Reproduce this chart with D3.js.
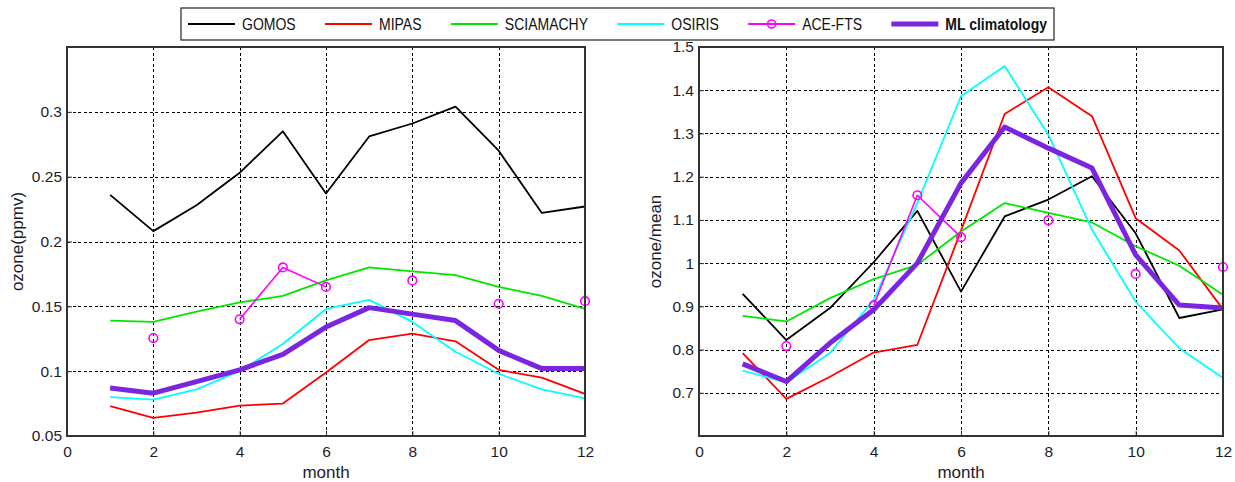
<!DOCTYPE html>
<html>
<head>
<meta charset="utf-8">
<script src="https://cdn.jsdelivr.net/npm/d3@7"></script>
<style>
  body { margin: 0; background: #fff; }
  svg  { display: block; font-family: "Liberation Sans", Arial, sans-serif; }
</style>
</head>
<body>
<svg id="fig" width="1235" height="482"></svg>
<script>
//------------------------------------------------------------------------
// Data, one array per series
const months = [1, 2, 3, 4, 5, 6, 7, 8, 9, 10, 11, 12];

// Left panel: absolute ozone (ppmv)
const gomosAbs  = [0.236, 0.208, 0.228, 0.253, 0.285, 0.237, 0.281, 0.291, 0.304, 0.270, 0.222, 0.227];
const mipasAbs  = [0.073, 0.064, 0.068, 0.0735, 0.075, 0.099, 0.124, 0.129, 0.123, 0.101, 0.095, 0.0825];
const sciaAbs   = [0.139, 0.138, 0.146, 0.153, 0.158, 0.170, 0.180, 0.177, 0.174, 0.165, 0.158, 0.148];
const osirisAbs = [0.080, 0.078, 0.086, 0.100, 0.121, 0.148, 0.155, 0.138, 0.115, 0.098, 0.086, 0.079];
const aceAbs    = [null, 0.1255, null, 0.140, 0.180, 0.165, null, 0.170, null, 0.152, null, 0.154];
const mlAbs     = [0.087, 0.083, 0.092, 0.101, 0.113, 0.134, 0.149, 0.144, 0.139, 0.116, 0.102, 0.102];

// Right panel: ozone normalised by mean
const gomosRel  = [0.929, 0.822, 0.896, 1.002, 1.121, 0.934, 1.108, 1.147, 1.201, 1.069, 0.873, 0.893];
const mipasRel  = [0.792, 0.686, 0.737, 0.793, 0.811, 1.075, 1.345, 1.407, 1.340, 1.104, 1.029, 0.893];
const sciaRel   = [0.878, 0.865, 0.919, 0.963, 0.996, 1.073, 1.139, 1.116, 1.094, 1.039, 0.994, 0.927];
const osirisRel = [0.751, 0.724, 0.792, 0.915, 1.139, 1.386, 1.456, 1.297, 1.077, 0.911, 0.803, 0.734];
const aceRel    = [null, 0.808, null, 0.902, 1.157, 1.060, null, 1.099, null, 0.975, null, 0.991];
const mlRel     = [0.767, 0.726, 0.815, 0.892, 1.000, 1.185, 1.315, 1.266, 1.220, 1.019, 0.903, 0.896];

// Tick values
const xTicks     = [0, 2, 4, 6, 8, 10, 12];
const yTicksLeft = [0.05, 0.1, 0.15, 0.2, 0.25, 0.3];
const yTicksRight= [0.7, 0.8, 0.9, 1.0, 1.1, 1.2, 1.3, 1.4, 1.5];

// Series styling / legend names
const seriesNames  = ['GOMOS', 'MIPAS', 'SCIAMACHY', 'OSIRIS', 'ACE-FTS', 'ML climatology'];
const seriesColors = ['#000000', '#ff0000', '#00e600', '#00ffff', '#ff00ff', '#7a26e0'];
const seriesWidths = [1.8, 1.8, 1.8, 1.8, 1.6, 5];

//------------------------------------------------------------------------
const svg = d3.select('#fig');
const textColor = '#1c1c2c';

const panels = [
    {box: {left: 67,  right: 585,  top: 47, bottom: 436}, yDomain: [0.05, 0.35],
     yTicks: yTicksLeft, yLabel: 'ozone(ppmv)', yLabelX: 17,
     data: [gomosAbs, mipasAbs, sciaAbs, osirisAbs, aceAbs, mlAbs]},
    {box: {left: 699, right: 1223, top: 47, bottom: 436}, yDomain: [0.6, 1.5],
     yTicks: yTicksRight, yLabel: 'ozone/mean', yLabelX: 655,
     data: [gomosRel, mipasRel, sciaRel, osirisRel, aceRel, mlRel]}
];

panels.forEach(p => drawPanel(p));
drawLegend();

//------------------------------------------------------------------------
// Function : drawPanel()
// - one MATLAB-style axes with dotted grid, box and the six series
//
function drawPanel(p) {
    const b = p.box;
    const w = b.right - b.left;
    const h = b.bottom - b.top;
    const x = d3.scaleLinear().domain([0, 12]).range([0, w]);
    const y = d3.scaleLinear().domain(p.yDomain).range([h, 0]);

    const g = svg.append('g').attr('transform', `translate(${b.left},${b.top})`);

    // grid lines
    g.append('g').attr('class', 'grid')
        .call(d3.axisBottom(x).tickValues(xTicks.slice(1, -1)).tickSize(h).tickFormat(''))
        .call(s => s.select('.domain').remove());
    g.append('g').attr('class', 'grid')
        .call(d3.axisLeft(y).tickValues(p.yTicks.filter(v => v > p.yDomain[0] + 1e-9 && v < p.yDomain[1] - 1e-9))
              .tickSize(-w).tickFormat(''))
        .call(s => s.select('.domain').remove());
    g.selectAll('.grid line')
        .attr('stroke', '#000').attr('stroke-width', 1)
        .attr('stroke-dasharray', '3,2.5').attr('shape-rendering', 'crispEdges');

    // tick labels
    g.append('g').attr('transform', `translate(0,${h})`)
        .call(d3.axisBottom(x).tickValues(xTicks).tickSize(-5).tickPadding(10).tickFormat(d3.format('d')))
        .call(s => s.select('.domain').remove())
        .call(s => s.selectAll('line').attr('stroke', '#333'))
        .call(s => s.selectAll('text').attr('font-size', 15.5).attr('fill', textColor)
                    .attr('font-family', '"Liberation Sans", Arial, sans-serif'));
    g.append('g')
        .call(d3.axisLeft(y).tickValues(p.yTicks).tickSize(-5).tickPadding(5).tickFormat(d => String(+d.toFixed(2))))
        .call(s => s.select('.domain').remove())
        .call(s => s.selectAll('line').attr('stroke', '#333'))
        .call(s => s.selectAll('text').attr('font-size', 15.5).attr('fill', textColor)
                    .attr('font-family', '"Liberation Sans", Arial, sans-serif'));

    // series lines
    p.data.forEach((vals, i) => {
        const pts = months.map((m, k) => ({m: m, v: vals[k]}));
        const line = d3.line().defined(d => d.v != null).x(d => x(d.m)).y(d => y(d.v));
        g.append('path').datum(pts)
            .attr('d', line).attr('fill', 'none')
            .attr('stroke', seriesColors[i]).attr('stroke-width', seriesWidths[i])
            .attr('stroke-linejoin', 'round');
        if (seriesNames[i] === 'ACE-FTS') {
            g.selectAll(null).data(pts.filter(d => d.v != null)).enter()
                .append('circle')
                .attr('cx', d => x(d.m)).attr('cy', d => y(d.v)).attr('r', 4.3)
                .attr('fill', 'none').attr('stroke', seriesColors[i]).attr('stroke-width', 1.6);
        }
    });

    // axes box
    g.append('rect').attr('width', w).attr('height', h)
        .attr('fill', 'none').attr('stroke', '#333').attr('stroke-width', 1.2)
        .attr('shape-rendering', 'crispEdges');

    // axis labels
    svg.append('text').attr('x', b.left + w / 2).attr('y', 478)
        .attr('text-anchor', 'middle').attr('font-size', 17).attr('fill', textColor)
        .text('month');
    svg.append('text')
        .attr('transform', `translate(${p.yLabelX},${b.top + h / 2}) rotate(-90)`)
        .attr('text-anchor', 'middle').attr('dy', '0.35em')
        .attr('font-size', 17).attr('fill', textColor)
        .text(p.yLabel);
}

//------------------------------------------------------------------------
// Function : drawLegend()
// - single-row boxed legend across the top; text drawn tall and condensed
//
function drawLegend() {
    const box = {x: 181, y: 8, w: 873, h: 32};
    const lg = svg.append('g');
    lg.append('rect').attr('x', box.x).attr('y', box.y).attr('width', box.w).attr('height', box.h)
        .attr('fill', '#fff').attr('stroke', '#222').attr('stroke-width', 1.2);

    const cy = box.y + box.h / 2;
    const lineLen = 47, textGap = 7;
    const items = seriesNames.map((name, i) => {
        const t = lg.append('text').attr('y', cy).attr('dy', '0.36em')
            .attr('font-size', 14).attr('fill', '#111')
            .attr('font-weight', i === 5 ? 'bold' : 'normal')
            .text(name);
        const len = t.node().getComputedTextLength();
        // taller glyphs squeezed back to the narrow width
        t.attr('font-size', 17).attr('textLength', len).attr('lengthAdjust', 'spacingAndGlyphs');
        return {t: t, len: len};
    });

    const start = 188, end = 1047;
    const used = d3.sum(items, d => lineLen + textGap + d.len);
    const gap = (end - start - used) / (items.length - 1);
    let cx = start;
    items.forEach((it, i) => {
        lg.append('line').attr('x1', cx).attr('x2', cx + lineLen).attr('y1', cy).attr('y2', cy)
            .attr('stroke', seriesColors[i]).attr('stroke-width', i === 5 ? 5 : 2);
        if (seriesNames[i] === 'ACE-FTS') {
            lg.append('circle').attr('cx', cx + lineLen / 2).attr('cy', cy).attr('r', 4)
                .attr('fill', 'none').attr('stroke', seriesColors[i]).attr('stroke-width', 1.6);
        }
        it.t.attr('x', cx + lineLen + textGap);
        cx += lineLen + textGap + it.len + gap;
    });
}
</script>
</body>
</html>
